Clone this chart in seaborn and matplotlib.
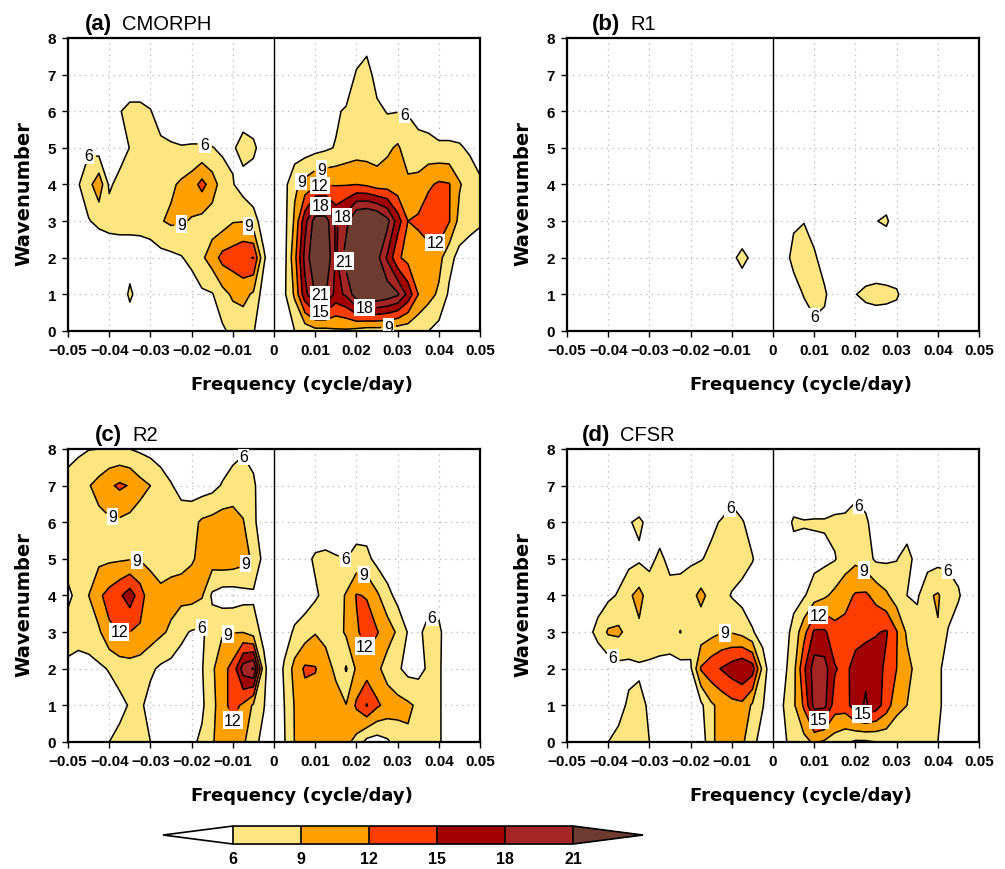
import numpy as np
import matplotlib
matplotlib.use("Agg")
import matplotlib.pyplot as plt
from matplotlib.colors import ListedColormap, BoundaryNorm
from matplotlib.cm import ScalarMappable
import seaborn as sns

# Frequency (cycle/day) and zonal wavenumber of the spectral grid
FREQ = np.round(np.arange(-20, 21) * 0.0025, 4)
WAVENUMBER = np.arange(0, 9)

# Contour levels and the colour of each band (below 6, 6-9, ..., above 21)
LEVELS = [6, 9, 12, 15, 18, 21]
BAND_COLORS = ['#FFFFFF', '#FFE57F', '#FFA000', '#FF3D00', '#A00000', '#A52424', '#6E3B30']

XTICKS = [-0.05, -0.04, -0.03, -0.02, -0.01, 0, 0.01, 0.02, 0.03, 0.04, 0.05]
XTICK_LABELS = ['\u22120.05', '\u22120.04', '\u22120.03', '\u22120.02', '\u22120.01', '0',
                '0.01', '0.02', '0.03', '0.04', '0.05']
YTICKS = [0, 1, 2, 3, 4, 5, 6, 7, 8]

# Power: rows from wavenumber 8 (top) down to 0,
# columns from -0.05 to 0.05 cycle/day every 0.0025
CMORPH = [
    [2,2,2,2,2,2,2,2,2,2, 2,2,2,2,2,2,2,2,2,2, 2,2,2,2,2,2,2,2,3,4.5, 3,2,2,2,2,2,2,2,2,2, 2],
    [3,3,3,3,3,3,3,3,3,3, 3,3,3,3,3,3,3,3,3,3, 3,3,3,3,3,3,3,3,6.5,7.5, 4.5,3,3,3,3,3,3,3,3,3, 3],
    [2,2.5,3,3.5,4.5,5.8,7,7,6.2,4, 3.5,3.5,3.5,3.5,3.5,3.5,3.5,4,3.5,3, 2,2,3,3,3.5,4,5.5,6.5,7.2,7.5, 6.8,5.8,5.9,5.8,5,4.5,4,4,4,3.5, 3.5],
    [2,3,5.5,4.5,4,4.5,6.1,7,7.2,7, 6.5,6.2,6.3,6.3,6.1,5.5,5.5,7.5,6.8,4, 2,3,4,4.5,5,5.5,6.2,7,7.5,7.5, 7.5,8.5,9.4,7.5,7,7,6.5,6.5,6.3,5.6, 4.5],
    [4,5.8,8,11,5.5,7,7.5,7.5,7.5,7.5, 8.5,9.5,10.5,13,10.5,7.5,6.2,4.5,4,3, 2.5,5,8.5,10,11.5,11.8,11.8,11.8,12,11.5, 10.5,10.5,10,9.6,10,11.5,12.5,12.2,9.3,7.5, 6.5],
    [3,4.5,5.8,6.8,7.5,7.5,7.2,7,7,8.8, 9.5,9.3,8.8,8,7.5,7.5,8.8,8.9,7.2,4.5, 2.5,5,9.5,17,22.5,22.5,17.5,20,25,26, 25,22,16.5,12,12.5,14,14.9,12.2,8,7, 6.3],
    [3,3,3,3,3,3.5,4,4.5,5,5, 5.3,5.8,7,8.5,10.5,13,13.5,14.5,15.1,6.5, 3,5,11,19,24,24,17.5,22.5,25,25, 22,17.5,12.5,11,10.5,10.5,10,7,5,4.5, 4.5],
    [3,3,3,3,3,3,6.8,4,3,3, 3,3.5,4,5.5,5.8,8,9.5,10,8.5,4.5, 2.5,5.5,9.5,17,21.2,21.2,17,18.5,23,24, 24,23,21.5,17,12,10,8.5,5.5,4,3.5, 3],
    [3,3,3,3,3,3,3,3,3,3, 3,3,3,3,3,5.5,6.8,7,6.2,4, 2.5,4,6,7,8,8,8.5,8.5,8,7.5, 7.5,7.5,7,7,6.5,6,5,3.5,3,3, 3],
]

R1 = [
    [2,2,2,2,2,2,2,2,2,2, 2,2,2,2,2,2,2,2,2,2, 2,2,2,2,2,2,2,2,2,2, 2,2,2,2,2,2,2,2,2,2, 2],
    [2.5,2.5,2.5,2.5,2.5,2.5,2.5,2.5,2.5,2.5, 2.5,2.5,2.5,2.5,2.5,2.5,2.5,2.5,2.5,2.5, 2.5,2.5,2.5,2.5,2.5,2.5,2.5,2.5,2.5,2.5, 2.5,2.5,2.5,2.5,2.5,2.5,2.5,2.5,2.5,2.5, 2.5],
    [3,3,3,3,3,3,3,3,3,3, 3,3,3,3,3,3,3,3,3,3, 3,3,3,3,3,3,3,3,3,3, 3,3,3,3,3,3,3,3,3,3, 3],
    [3,3,3,3,3,3,3,3,3,3, 3,3,3,3,3,3,3,3,3,3, 3,3,3,3,3,3,3,3,3,3, 3,3,3,3,3,3,3,3,3,3, 3],
    [3.5,3.5,3.5,3.5,3.5,3.5,3.5,3.5,3.5,3.5, 3.5,3.5,3.5,3.5,3.5,3.5,3.5,3.5,3.5,3.5, 3.5,3.5,3.5,3.5,3.5,3.5,3.5,3.5,3.5,3.5, 3.5,3.5,3.5,3.5,3.5,3.5,3.5,3.5,3.5,3.5, 3.5],
    [3.5,3.5,3.5,3.5,3.5,3.5,3.5,3.5,3.5,3.5, 3.5,3.5,3.5,3.5,3.5,3.5,3.5,3.5,3.5,3.5, 3.5,3.5,5.5,5.9,4.5,3.5,3.5,3.5,3.5,3.5, 5.9,6.5,4,3.5,3.5,3.5,3.5,3.5,3.5,3.5, 3.5],
    [3.5,3.5,3.5,3.5,3.5,3.5,3.5,3.5,3.5,3.5, 3.5,3.5,3.5,3.5,3.5,3.5,5.4,6.8,5.4,3.5, 3,4.5,7,7.5,6.5,4.5,3.5,3.5,3.5,3.2, 3.2,3,3.2,3.5,3.5,3.5,3.5,3.5,3.5,3.5, 3.5],
    [3,3,3,3,3,3,3,3,3,3, 3,3,3,3,3,3,3.5,4,3.5,3, 3,3.5,4.5,6.2,7.5,6.5,4,3.5,5.9,6.8, 7.2,7,6.5,4,3.5,3.5,3,3,3,3, 3],
    [3,3,3,3,3,3,3,3,3,3, 3,3,3,3,3,3,3,3,3,3, 3,3,3.5,4,5,5,3.5,3,3,3.2, 3.2,3.2,3.2,3,3,3,3,3,3,3, 3],
]

R2 = [
    [5.5,5.7,5.9,6,6.2,6.2,6,5.5,5,4.5, 4,3.5,3.5,3.5,3.5,4,5.2,5.7,5,4, 2.5,2.5,2.5,2.5,2.5,2.5,2.5,2.5,2.5,2.5, 2.5,2.5,2.5,2.5,2.5,2.5,2.5,2.5,2.5,2.5, 2.5],
    [6.5,7,8.8,10,11.5,12.5,11.8,10,9,7.5, 6.2,5,4.5,4.5,5,6.3,7,7.3,6.5,4, 3,3,3,3,3,3,3,3,3,3, 3,3,3,3,3,3,3,3,3,3, 3],
    [7,7.5,8,8.2,8.5,8.5,8,7.5,7.5,7.5, 7.5,7.5,8,9.5,10,10.5,10.5,9.2,6.5,4.5, 3,3.5,3.5,3.5,3.5,3.5,3.5,3.5,4.5,4.5, 3.5,3.5,3.5,3.5,3.5,3.5,3.5,3.5,3.5,3.5, 3.5],
    [8,7.5,8,8.3,8.5,8.6,8.8,8.8,8.5,8, 8,8.3,8.8,9.5,10.5,11,10.8,10,8.5,5, 2,3,4,5,6.5,6.8,6.3,6,7,6.8, 5,4,3.5,3.5,3,3,3,3,3,3, 3],
    [5,7.5,9,11.5,13,14.5,16.5,13.5,10,9.5, 10,10,10,9.3,5.5,4.5,4.5,5,5.5,4, 2,3,4,4.5,5.5,7,7.5,9.3,12.2,11.8, 9.5,7,5,4,3.5,5,5,3,3,3, 3],
    [8,7,7.5,8.5,11.5,12,12,11.5,10.5,9.5, 8.5,6.5,5.8,5.5,7.5,8.8,8.9,8.9,7.5,5, 2.5,4.5,6.5,7.5,8.8,8.3,7.5,9.5,11.5,13.5, 12.2,10.5,8.5,5.8,5.5,6.8,6.5,4.5,3,3, 3],
    [5,5,5,5.5,6.2,7.5,7.8,7.5,6.5,5.5, 5,5,5,5.8,8.5,11,13,19.5,21.3,7, 3,6.5,10,12.5,12.2,10,8.5,5.7,9.5,10.5, 9.8,7.5,6.5,5,5,6.5,6.5,4,3,3, 3],
    [4.5,4.5,4.5,4.5,4.5,5,6.3,6.5,5,4.5, 4.5,4.5,4.5,5.5,8,11,13,11.5,8.5,6.2, 3,6,9.2,10.5,10.5,10.5,10,9.1,12.5,15.2, 12.5,11,10,9.5,8.5,7.5,6.5,4,3,3, 3],
    [4,4.5,5,5.5,6,7,7.2,7,6,5, 4.5,4.5,5.5,6.5,8.5,11.5,10.5,9.5,7,5, 3,5.8,9.1,9.5,9.8,10,10,9.8,8,5, 4.5,5.5,7.5,8.5,7.5,7,6.5,4,3,3, 3],
]

CFSR = [
    [2,2,2,2,2,2,2,2,2,2, 2,2,2,2,2,2,2,2,2,2, 2,2,2,2,2,2,2,2,2,2, 2,2,2,2,2,2,2,2,2,2, 2],
    [3,3,3,3,3,3,3,3,3,3, 3,3,3,3,3,3,5,3,3,3, 3,3,3,3,3,3,3,3,5,4.5, 3,3,3,3,3,3,3,3,3,3, 3],
    [2,2,2.5,3,3.5,4,5.8,6.5,5.2,4.5, 4,4,4.5,4.8,5.3,6.3,6.8,6.3,4.5,3, 2,4,6.5,6.2,6.3,6.3,6.8,7,7.2,6.5, 4.5,4,4,4.5,4,3.5,3.5,3.5,3.5,3, 3],
    [2,2.5,3,3.5,4,4.5,5,5.5,5.2,6.6, 5.2,5.3,5.5,5.8,6.7,7.2,7.5,7.2,6.2,4, 2,3,4.5,5,5,5.3,5.8,7.5,8.3,7.2, 5.5,5.5,5.9,7,5,4.5,5,5.3,5,4, 3],
    [2.5,3,3.5,4.5,5.3,6.3,8.5,10,7.5,7, 7,7,8,9.8,8,7,5.8,5,4,3, 2.5,4,5,5.7,7.5,8.5,9.8,11,12.3,12.5, 11,9.5,7.5,6,5.5,8.6,9.3,7.5,6.3,4.5, 3],
    [3,4,5,7,9.4,9.6,8,8.4,7.5,7.3, 7.5,9.1,7.5,7.2,8,8.9,8.8,8,6.3,4.5, 2.5,4.5,7,11,15.5,15.5,13,13,13.5,14, 14.8,15.3,12.2,8.5,7.5,7.5,8.8,5.8,4.5,3.5, 3],
    [2,2.5,3,3.5,4,5,5.3,5.5,5.5,5.3, 5,5,5.5,12.3,14,15.2,16.5,17.8,16.5,8, 3,5,8,14.5,19.5,19.2,15.3,14,16.5,17.5, 16.5,14.2,12,10,8,7,6.5,5,4,3.5, 3],
    [2,2.5,3,3.5,4,5,6.5,7,5.5,4, 4,4,4.5,5.3,8.5,10,11,11.3,8.5,6.2, 3,6,8.5,12.5,19,18.8,13.5,13.5,17,18.3, 16.5,13.5,10,9,7.5,7,6.5,5,4,3.5, 3],
    [2,2.5,3,3.5,6,6.8,7.2,7,6,4.5, 3.5,3,3,4,8.5,10,10.2,9.5,7,4.5, 3,5.5,7,8,9.5,8.5,7.5,6.5,5.5,5.5, 6,6.5,6.5,6.8,6.5,6.3,6,4.5,3,3, 3],
]

PANEL_LETTERS = ['(a)', '(b)', '(c)', '(d)']
PANEL_NAMES = ['CMORPH', 'R1', 'R2', 'CFSR']
PANEL_FIELDS = [CMORPH, R1, R2, CFSR]

# Where the contour labels sit (frequency, wavenumber)
LABEL_SPOTS = [
    [(-0.0455, 4.95), (-0.017, 5.0), (-0.022, 2.75), (-0.0063, 2.85), (0.0112, 4.55), (0.006, 4.15),
     (0.0112, 3.85), (0.0112, 3.52), (0.0168, 3.1), (0.0168, 1.9), (0.0112, 1.0), (0.0112, 0.42),
     (0.022, 0.69), (0.0277, 0.19), (0.039, 2.24), (0.0318, 5.97)],
    [(0.011, 0.15)],
    [(-0.039, 6.28), (-0.0333, 4.9), (-0.039, 2.87), (-0.017, 3.3), (-0.0114, 3.05), (-0.0107, 0.3),
     (-0.0063, 4.8), (-0.0063, 7.87), (0.0172, 4.95), (0.0217, 4.53), (0.0221, 2.62), (0.0386, 3.5)],
    [(-0.0112, 6.46), (-0.0117, 3.0), (-0.0388, 2.31), (0.0215, 6.55), (0.0215, 4.59), (0.011, 3.45),
     (0.011, 0.65), (0.0215, 0.72), (0.0435, 4.8)],
]

# Axes boxes in figure fractions
AXES_BOXES = [
    [0.0677, 0.6184, 0.41, 0.3368],
    [0.5642, 0.6184, 0.41, 0.3368],
    [0.0677, 0.1460, 0.41, 0.3368],
    [0.5642, 0.1460, 0.41, 0.3368],
]
TITLE_X = [0.041, 0.061, 0.066, 0.036]

sns.set_theme(style='white')
plt.rcParams['font.family'] = ['Liberation Sans', 'DejaVu Sans']
plt.rcParams['axes.unicode_minus'] = True
plt.rcParams['text.color'] = 'black'
plt.rcParams['axes.labelcolor'] = 'black'

# Colormap for the panels: nothing drawn below 6 so the dotted grid shows through
fill_cmap = ListedColormap(BAND_COLORS[1:-1])
fill_cmap.set_over(BAND_COLORS[-1])
fill_norm = BoundaryNorm(LEVELS, fill_cmap.N)

fig = plt.figure(figsize=(10.05, 8.7), dpi=100)
F, W = np.meshgrid(FREQ, WAVENUMBER)

for box, letter, name, field, spots, tx in zip(AXES_BOXES, PANEL_LETTERS, PANEL_NAMES,
                                               PANEL_FIELDS, LABEL_SPOTS, TITLE_X):
    ax = fig.add_axes(box)
    Z = np.flipud(np.array(field, dtype=float))

    ax.contourf(F, W, Z, levels=LEVELS, cmap=fill_cmap, norm=fill_norm, extend='max', zorder=1)
    cl = ax.contour(F, W, Z, levels=LEVELS, colors='black', linewidths=1.1, zorder=2)
    labels = ax.clabel(cl, fmt='%d', inline=True, inline_spacing=3, fontsize=11.5, manual=spots)
    for t in labels:
        t.set_rotation(0)
        t.set_bbox(dict(boxstyle='square,pad=0.08', facecolor='white', edgecolor='none'))
        t.set_zorder(5)

    ax.axvline(0, color='black', linewidth=1.0, zorder=3)

    ax.set_xlim(-0.05, 0.05)
    ax.set_ylim(0, 8)
    ax.set_xticks(XTICKS)
    ax.set_xticklabels(XTICK_LABELS)
    ax.set_yticks(YTICKS)
    ax.tick_params(direction='out', length=4.5, width=1.0, labelsize=11, pad=4,
                   bottom=True, left=True, colors='black')
    for lab in ax.get_xticklabels() + ax.get_yticklabels():
        lab.set_fontweight('bold')

    ax.set_axisbelow(True)
    ax.grid(True, color='#b5b5b5', linestyle=(0, (1, 3.5)), linewidth=0.9)
    for sp in ax.spines.values():
        sp.set_color('black')
        sp.set_linewidth(1.6)

    t1 = ax.text(tx, 1.05, letter, transform=ax.transAxes, fontsize=16,
                 fontweight='bold', ha='left', va='center')
    ax.annotate(name, xy=(1, 0.5), xycoords=t1, xytext=(7, 0), textcoords='offset points',
                fontsize=14.5, ha='left', va='center')

    ax.text(0.568, -0.181, 'Frequency (cycle/day)', transform=ax.transAxes,
            fontsize=13, fontweight='bold', ha='center', va='center', family='DejaVu Sans')
    ax.text(-0.107, 0.474, 'Wavenumber', transform=ax.transAxes, rotation=90,
            fontsize=14, fontweight='bold', ha='center', va='center', family='DejaVu Sans')

# Shared colour bar with triangular ends
bar_cmap = ListedColormap(BAND_COLORS[1:-1])
bar_cmap.set_under(BAND_COLORS[0])
bar_cmap.set_over(BAND_COLORS[-1])
cax = fig.add_axes([0.1622, 0.0287, 0.4776, 0.0207])
cb = fig.colorbar(ScalarMappable(norm=BoundaryNorm(LEVELS, bar_cmap.N), cmap=bar_cmap),
                  cax=cax, orientation='horizontal', extend='both', extendfrac=0.206,
                  drawedges=True, ticks=LEVELS)
cb.outline.set_linewidth(1.2)
cb.outline.set_edgecolor('black')
cb.dividers.set_linewidth(1.2)
cb.dividers.set_color('black')
cax.tick_params(length=0, labelsize=11.5, pad=5, colors='black')
for lab in cax.get_xticklabels():
    lab.set_fontweight('bold')

fig.savefig('out.png', dpi=100)
